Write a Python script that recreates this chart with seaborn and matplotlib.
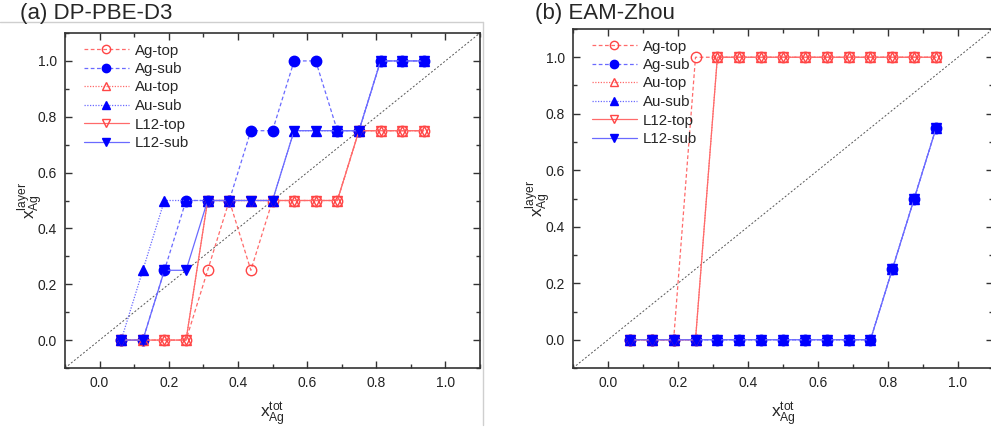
import numpy as np
import pandas as pd
import matplotlib
matplotlib.use("Agg")
import matplotlib.pyplot as plt
from matplotlib.lines import Line2D
from matplotlib.ticker import MultipleLocator
import seaborn as sns

# composition of the slab, x_Ag^tot = n/16
x_tot = [1/16, 2/16, 3/16, 4/16, 5/16, 6/16, 7/16, 8/16,
         9/16, 10/16, 11/16, 12/16, 13/16, 14/16, 15/16]

# (a) DP-PBE-D3
dp_ag_top = [0, 0, 0, 0, 0.25, 0.5, 0.25, 0.5, 0.5, 0.5, 0.5, 0.75, 0.75, 0.75, 0.75]
dp_ag_sub = [0, 0, 0.25, 0.5, 0.5, 0.5, 0.75, 0.75, 1.0, 1.0, 0.75, 0.75, 1.0, 1.0, 1.0]
dp_au_top = [0, 0, 0, 0, 0.5, 0.5, 0.5, 0.5, 0.5, 0.5, 0.5, 0.75, 0.75, 0.75, 0.75]
dp_au_sub = [0, 0.25, 0.5, 0.5, 0.5, 0.5, 0.5, 0.5, 0.75, 0.75, 0.75, 0.75, 1.0, 1.0, 1.0]
dp_l12_top = [0, 0, 0, 0, 0.5, 0.5, 0.5, 0.5, 0.5, 0.5, 0.5, 0.75, 0.75, 0.75, 0.75]
dp_l12_sub = [0, 0, 0.25, 0.25, 0.5, 0.5, 0.5, 0.5, 0.75, 0.75, 0.75, 0.75, 1.0, 1.0, 1.0]

# (b) EAM-Zhou
eam_ag_top = [0, 0, 0, 1, 1, 1, 1, 1, 1, 1, 1, 1, 1, 1, 1]
eam_ag_sub = [0, 0, 0, 0, 0, 0, 0, 0, 0, 0, 0, 0, 0.25, 0.5, 0.75]
eam_au_top = [0, 0, 0, 0, 1, 1, 1, 1, 1, 1, 1, 1, 1, 1, 1]
eam_au_sub = [0, 0, 0, 0, 0, 0, 0, 0, 0, 0, 0, 0, 0.25, 0.5, 0.75]
eam_l12_top = [0, 0, 0, 0, 1, 1, 1, 1, 1, 1, 1, 1, 1, 1, 1]
eam_l12_sub = [0, 0, 0, 0, 0, 0, 0, 0, 0, 0, 0, 0, 0.25, 0.5, 0.75]

labels = ["Ag-top", "Ag-sub", "Au-top", "Au-sub", "L12-top", "L12-sub"]

RED_LINE = "#ff6a6a"
RED_MK = "#ff4545"
BLUE_LINE = "#6a6aff"
BLUE_MK = "#0000ff"

styles = {
    "Ag-top": dict(ls=(0, (3, 2)), marker="o", line=RED_LINE, mk=RED_MK, filled=False),
    "Ag-sub": dict(ls=(0, (3, 2)), marker="o", line=BLUE_LINE, mk=BLUE_MK, filled=True),
    "Au-top": dict(ls=(0, (1, 1.2)), marker="^", line=RED_LINE, mk=RED_MK, filled=False),
    "Au-sub": dict(ls=(0, (1, 1.2)), marker="^", line=BLUE_LINE, mk=BLUE_MK, filled=True),
    "L12-top": dict(ls="-", marker="v", line=RED_LINE, mk=RED_MK, filled=False),
    "L12-sub": dict(ls="-", marker="v", line=BLUE_LINE, mk=BLUE_MK, filled=True),
}

sns.set_style("ticks")
plt.rcParams["font.family"] = ["Liberation Sans", "DejaVu Sans"]
plt.rcParams["mathtext.fontset"] = "custom"
plt.rcParams["mathtext.rm"] = "Liberation Sans"
plt.rcParams["mathtext.it"] = "Liberation Sans"


def draw_panel(ax, series):
    df = pd.DataFrame({"x": x_tot})
    for lab, vals in zip(labels, series):
        df[lab] = vals
    ax.axline((0, 0), slope=1, color="#555555", lw=0.7, ls=(0, (2, 2)), zorder=1)
    for lab in labels:
        st = styles[lab]
        sns.lineplot(data=df, x="x", y=lab, ax=ax, label=lab,
                     color=st["line"], linestyle=st["ls"], linewidth=0.9,
                     marker=st["marker"], markersize=7.5,
                     markerfacecolor=st["mk"] if st["filled"] else "none",
                     markeredgecolor=st["mk"], markeredgewidth=1.0)
    ax.set_xlim(-0.1, 1.1)
    ax.set_ylim(-0.1, 1.1)
    ax.xaxis.set_major_locator(MultipleLocator(0.2))
    ax.yaxis.set_major_locator(MultipleLocator(0.2))
    ax.xaxis.set_minor_locator(MultipleLocator(0.1))
    ax.yaxis.set_minor_locator(MultipleLocator(0.1))
    ax.tick_params(which="both", direction="in", top=True, right=True,
                   labelsize=10, width=1.0, colors="#333333", labelcolor="#222222")
    ax.tick_params(which="major", length=5, pad=6)
    ax.tick_params(which="minor", length=3)
    ax.set_xticklabels([f"{t:.1f}" if -0.01 < t < 1.01 else "" for t in ax.get_xticks()])
    ax.set_yticklabels([f"{t:.1f}" if -0.01 < t < 1.01 else "" for t in ax.get_yticks()])
    for sp in ax.spines.values():
        sp.set_linewidth(1.2)
        sp.set_color("#333333")
    ax.set_xlabel(r"x$_{\rm Ag}^{\rm tot}$", fontsize=12.5, labelpad=8)
    ax.set_ylabel(r"x$_{\rm Ag}^{\rm layer}$", fontsize=12.5, labelpad=-6)
    ax.legend(loc="upper left", frameon=False, fontsize=10.8, handlelength=3.0,
              handletextpad=0.4, labelspacing=0.3, borderaxespad=0.3,
              markerscale=0.8, bbox_to_anchor=(0.02, 1.0))


fig = plt.figure(figsize=(9.91, 4.32), dpi=100)
ax1 = fig.add_axes([65 / 991, 64 / 432, 415 / 991, 335 / 432])
ax2 = fig.add_axes([573 / 991, 64 / 432, 420 / 991, 339 / 432])

draw_panel(ax1, [dp_ag_top, dp_ag_sub, dp_au_top, dp_au_sub, dp_l12_top, dp_l12_sub])
draw_panel(ax2, [eam_ag_top, eam_ag_sub, eam_au_top, eam_au_sub, eam_l12_top, eam_l12_sub])

fig.text(20 / 991, 1 - 13 / 432, "(a) DP-PBE-D3", fontsize=16, va="center", ha="left")
fig.text(535 / 991, 1 - 14 / 432, "(b) EAM-Zhou", fontsize=16, va="center", ha="left")

# panel separators from the original composite
fig.add_artist(Line2D([0, 483 / 991], [1 - 22 / 432, 1 - 22 / 432],
                      transform=fig.transFigure, color="#cfcfcf", lw=1))
fig.add_artist(Line2D([483 / 991, 483 / 991], [1 - 22 / 432, 1 - 425 / 432],
                      transform=fig.transFigure, color="#cfcfcf", lw=1))

fig.savefig("out.png", dpi=100)
